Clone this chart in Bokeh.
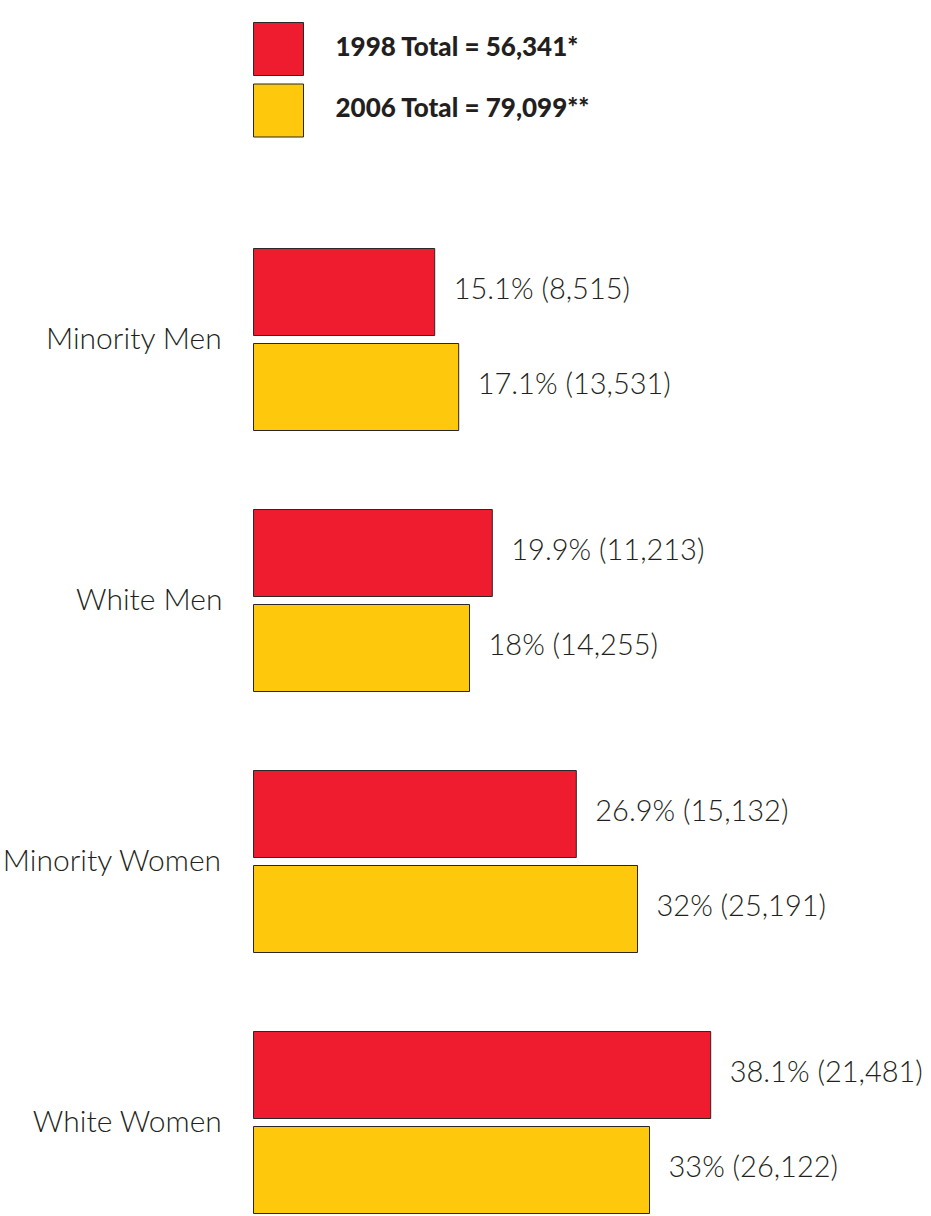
from bokeh.plotting import figure
from bokeh.models import Range1d, ColumnDataSource
from bokeh.core.properties import value
from bokeh.embed import file_html
from bokeh.resources import INLINE

categories = ["Minority Men", "White Men", "Minority Women", "White Women"]
pct_1998 = [15.1, 19.9, 26.9, 38.1]
cnt_1998 = ["8,515", "11,213", "15,132", "21,481"]
pct_2006 = [17.1, 18, 32, 33]
cnt_2006 = ["13,531", "14,255", "25,191", "26,122"]
legend_labels = ["1998 Total = 56,341*", "2006 Total = 79,099**"]
colors = ["#EE1C2E", "#FEC90C"]
edge = "#2b2627"
text_color = "#231F20"

W, H = 931, 1216
X0 = 253          # canvas px of 0%
PX_PER_PCT = 12.0
Y0 = 339          # canvas px of first group center
GROUP_PX = 261.0

def ydat(canvas_y):
    return (canvas_y - Y0) / GROUP_PX

p = figure(width=W, height=H, output_backend="svg", toolbar_location=None,
           x_range=Range1d(-X0 / PX_PER_PCT, (W - X0) / PX_PER_PCT),
           y_range=Range1d(ydat(H), ydat(0)),
           min_border=0, x_axis_location=None, y_axis_location=None)
p.grid.visible = False
p.outline_line_color = None
p.background_fill_color = "white"

bar_h = 87 / GROUP_PX
off = 47.5 / GROUP_PX
idx = list(range(len(categories)))

series = [(pct_1998, cnt_1998, -off, colors[0]), (pct_2006, cnt_2006, off, colors[1])]
for pct, cnt, o, col in series:
    src = ColumnDataSource(dict(
        y=[i + o for i in idx], right=pct,
        label=[f"{v:g}% ({c})" for v, c in zip(pct, cnt)]))
    p.hbar(y="y", left=0, right="right", height=bar_h, source=src,
           fill_color=col, line_color=edge, line_width=1)
    p.text(x="right", y="y", text="label", source=src, x_offset=19, y_offset=-5,
           text_align="left", text_baseline="middle",
           text_font=value("Lato Light"), text_font_size="29px", text_color=text_color)

p.text(x=[0] * len(categories), y=idx, text=categories, x_offset=-31, y_offset=-3,
       text_align="right", text_baseline="middle",
       text_font=value("Lato Light"), text_font_size="30px", text_color=text_color)

# legend
leg_y = [ydat(48.5), ydat(110)]
p.rect(x=[25 / PX_PER_PCT] * 2, y=leg_y, width=50, height=53,
       width_units="screen", height_units="screen",
       fill_color=colors, line_color=edge, line_width=1)
p.text(x=[0, 0], y=[ydat(45), ydat(106)], text=legend_labels, x_offset=82,
       text_align="left", text_baseline="middle",
       text_font=value("Lato Black"), text_font_style="bold",
       text_font_size="26px", text_color=text_color)

open("out.html", "w").write(file_html(p, INLINE))
